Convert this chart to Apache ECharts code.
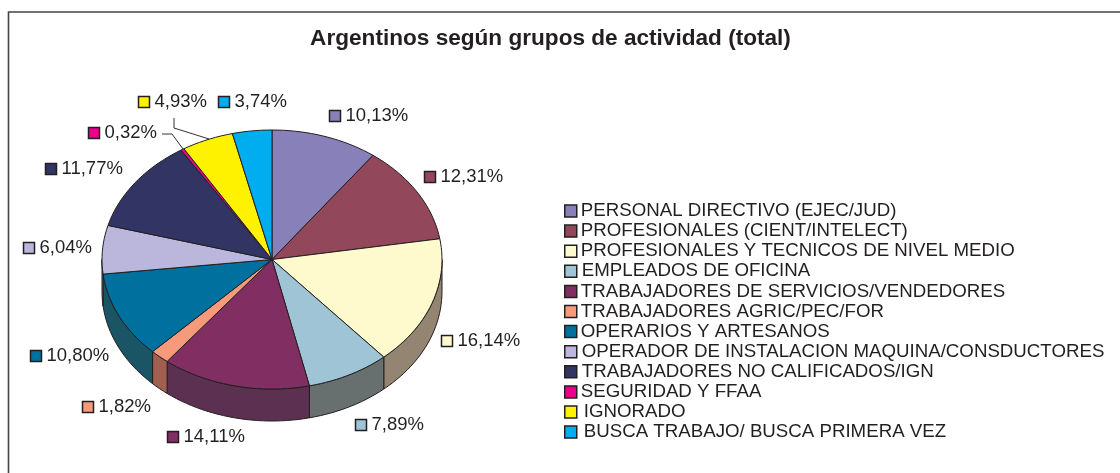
<!DOCTYPE html>
<html><head><meta charset="utf-8">
<style>html,body{margin:0;padding:0;background:#fff}#c{width:1120px;height:473px}</style>
<script src="https://cdn.jsdelivr.net/npm/echarts@6/dist/echarts.min.js"></script>
</head><body><div id="c"></div>
<script>
const categories = ["PERSONAL DIRECTIVO (EJEC/JUD)","PROFESIONALES (CIENT/INTELECT)","PROFESIONALES Y TECNICOS DE NIVEL MEDIO","EMPLEADOS DE OFICINA","TRABAJADORES DE SERVICIOS/VENDEDORES","TRABAJADORES AGRIC/PEC/FOR","OPERARIOS Y ARTESANOS","OPERADOR DE INSTALACION MAQUINA/CONSDUCTORES","TRABAJADORES NO CALIFICADOS/IGN","SEGURIDAD Y FFAA","IGNORADO","BUSCA TRABAJO/ BUSCA PRIMERA VEZ"];
const shares = [10.13,12.31,16.14,7.89,14.11,1.82,10.80,6.04,11.77,0.32,4.93,3.74];
const colors = ["#8880b9","#93475a","#fffacd","#9fc4d5","#812f63","#f79a7a","#00709f","#bab6dc","#323464","#ec008c","#fff200","#00aeef"];
const sideColors = ["#5f5a80","#66323f","#948472","#67706f","#5c3050","#a05f50","#1a5565","#7a7894","#232546","#a00060","#b0a800","#0078a5"];
// label layout: marker left x, marker centre y
const labelPos = [[329,116],[424,177],[441,341],[355,425],[167,437],[82,407],[30,356],[23,248],[45,169],[88,133],[138,102],[218,102]];
// legend text nudges as in the source: [left, up]
const legendNudge = [[0,1],[0,1],[0,1],[1,1],[0,1],[0,1],[0,1],[1,0],[1,3],[0,1],[3,2],[3,1]];
const INK = "#231f20";
const CX = 272, CY = 259.5, RX = 170, RY = 129.5, DEPTH = 32;

function pt(deg, dy) {
  const a = deg * Math.PI / 180;
  return [CX + RX * Math.sin(a), CY - RY * Math.cos(a) + (dy || 0)];
}
function arc(a0, a1, dy) {
  const n = Math.max(2, Math.ceil(Math.abs(a1 - a0) / 2)), out = [];
  for (let i = 0; i <= n; i++) out.push(pt(a0 + (a1 - a0) * i / n, dy));
  return out;
}
function renderSlice(i) {
  return function (params, api) {
    const value = api.value(0);
    let before = 0;
    for (let k = 0; k < i; k++) before += shares[k];
    const a0 = before * 3.6, a1 = (before + value) * 3.6;
    const children = [];
    const s0 = Math.max(a0, 90), s1 = Math.min(a1, 270);
    if (s1 > s0) {
      children.push({ type: "polygon", z2: 1,
        shape: { points: arc(s0, s1, 0).concat(arc(s1, s0, DEPTH)) },
        style: { fill: sideColors[i], stroke: INK, lineWidth: 1 } });
    }
    children.push({ type: "polygon", z2: 5,
      shape: { points: [[CX, CY]].concat(arc(a0, a1, 0)) },
      style: { fill: colors[i], stroke: INK, lineWidth: 1, lineJoin: "round" } });
    const p = labelPos[i];
    children.push({ type: "rect", z2: 6,
      shape: { x: p[0] + .5, y: p[1] - 5.5, width: 11, height: 11 },
      style: { fill: colors[i], stroke: INK, lineWidth: 1.5 } });
    children.push({ type: "text", z2: 6,
      style: { x: p[0] + 16.5, y: p[1], text: value.toFixed(2).replace(".", ",") + "%",
        fill: INK, font: '18.5px "Liberation Sans"', textAlign: "left", textVerticalAlign: "middle" } });
    return { type: "group", children };
  };
}
const leader = (pts) => ({ type: "polyline", z: 10, shape: { points: pts }, style: { stroke: "#333", lineWidth: 1, fill: null } });

const chart = echarts.init(document.getElementById("c"), null, { renderer: "canvas" });
chart.setOption({
  animation: false,
  backgroundColor: "#fff",
  title: { text: "Argentinos según grupos de actividad (total)", left: 545.5, top: 22, textAlign: "center",
    textStyle: { fontFamily: "Liberation Sans", fontWeight: "bold", fontSize: 22.6, color: INK } },
  legend: { orient: "vertical", left: 564, top: 201.5, itemWidth: 12, itemHeight: 12, itemGap: 1.1, padding: 0,
    icon: "rect", selectedMode: false,
    itemStyle: { borderColor: INK, borderWidth: 1.5 },
    textStyle: { fontFamily: "Liberation Sans", fontSize: 18.7, color: INK, lineHeight: 18 },
    data: categories.map((name, i) => ({ name, textStyle: {
      padding: [-legendNudge[i][1], 0, legendNudge[i][1], legendNudge[i][0] - 1] } })) },
  graphic: [
    { type: "polyline", shape: { points: [[8.5, 473], [8.5, 12], [1120, 12]] }, style: { stroke: "#444", lineWidth: 1.6, fill: null } },
    leader([[174, 118], [174, 128], [209, 139]]),
    leader([[162, 134], [172, 134], [183, 149]])
  ],
  series: categories.map((name, i) => ({
    type: "custom", name, coordinateSystem: "none", silent: true,
    itemStyle: { color: colors[i] },
    renderItem: renderSlice(i),
    data: [[shares[i]]]
  }))
});
</script></body></html>
